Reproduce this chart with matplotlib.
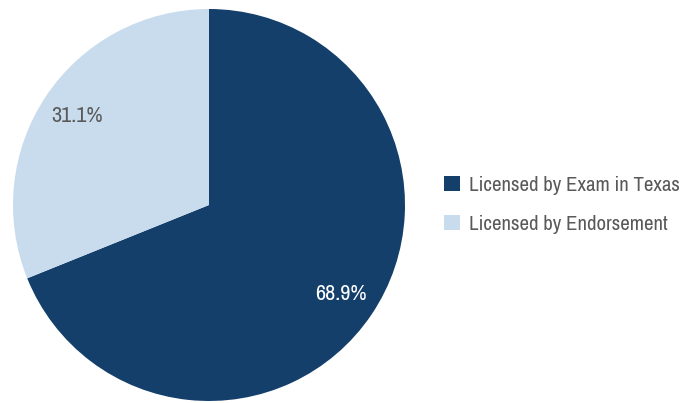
import matplotlib.pyplot as plt
from matplotlib import font_manager

labels = ['Licensed by Exam in Texas', 'Licensed by Endorsement']
shares = [68.9, 31.1]
colors = ['#143F6B', '#C9DCEE']
pct_colors = ['white', '#595959']

# a condensed face is closest to the original lettering
names = sorted(set(f.name for f in font_manager.fontManager.ttflist))
cond = [n for n in names if 'Condensed' in n or 'Narrow' in n]
fam = cond[0] if cond else 'DejaVu Sans'
plt.rcParams['font.family'] = [fam, 'DejaVu Sans']
plt.rcParams['font.stretch'] = 'condensed'

fig = plt.figure(figsize=(6.96, 4.03), dpi=100)
ax = fig.add_axes([13 / 696, 2 / 403, 392 / 696, 392 / 403])

wedges, texts, autotexts = ax.pie(shares, colors=colors, startangle=90, counterclock=False,
                                  autopct='%1.1f%%', pctdistance=0.81,
                                  textprops={'fontsize': 16})
for t, c in zip(autotexts, pct_colors):
    t.set_color(c)
ax.set_xlim(-1, 1)
ax.set_ylim(-1, 1)
ax.set_aspect('equal')

fig.legend(wedges, labels, loc='center left', bbox_to_anchor=(444 / 696, 1 - 205 / 403),
           frameon=False, fontsize=15, handlelength=0.75, handleheight=0.75,
           handletextpad=0.45, labelspacing=0.95, labelcolor='#595959',
           borderpad=0, borderaxespad=0)

fig.savefig('out.png', dpi=100)
